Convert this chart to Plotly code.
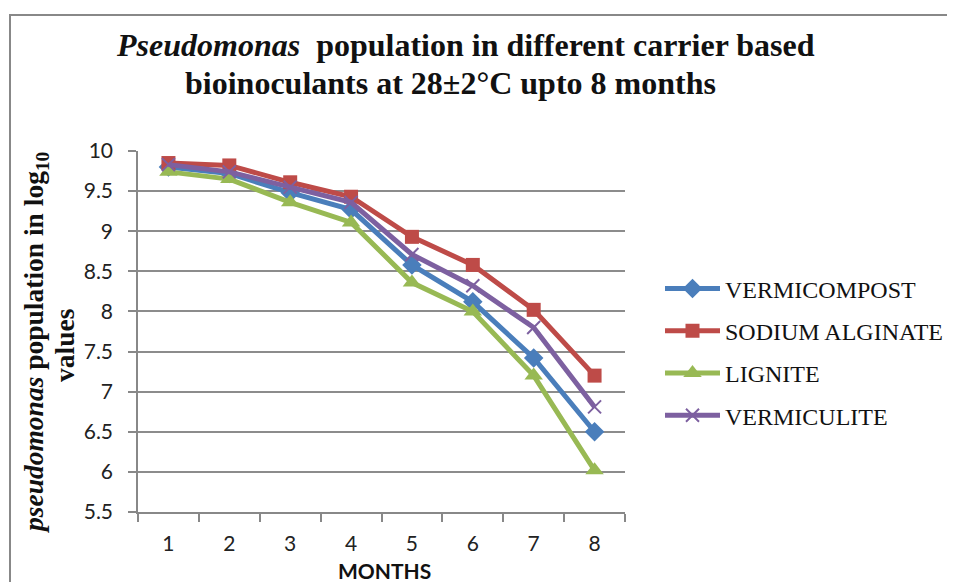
import plotly.graph_objects as go

months = ["1", "2", "3", "4", "5", "6", "7", "8"]
vermicompost = [9.80, 9.72, 9.48, 9.27, 8.58, 8.12, 7.42, 6.50]
sodium_alginate = [9.85, 9.82, 9.61, 9.43, 8.93, 8.58, 8.02, 7.20]
lignite = [9.74, 9.65, 9.36, 9.11, 8.36, 8.00, 7.20, 6.02]
vermiculite = [9.83, 9.74, 9.55, 9.36, 8.71, 8.32, 7.80, 6.81]
y_ticks = [5.5, 6, 6.5, 7, 7.5, 8, 8.5, 9, 9.5, 10]

series = [
    ("VERMICOMPOST", vermicompost, "#4A7EBB", "diamond", 15),
    ("SODIUM ALGINATE", sodium_alginate, "#BE4B48", "square", 14),
    ("LIGNITE", lignite, "#98B954", "triangle-up", 16),
    ("VERMICULITE", vermiculite, "#7D60A0", "x-thin", 13),
]

# page has an 8px body margin; figure coordinates = screen - 8
OFF = 8
W, H = 955, 582
L, T = 138 - OFF, 151 - OFF
pw, ph = 625 - 138, 512 - 151
R, B = W - L - pw, H - T - ph


def px(x):  # screen x -> paper
    return (x - OFF - L) / pw


def py(y):  # screen y -> paper
    return 1 - (y - OFF - T) / ph


fig = go.Figure()
for i, (name, vals, col, sym, size) in enumerate(series):
    marker = dict(symbol=sym, size=size, color=col)
    if sym == "x-thin":
        marker["line"] = dict(color=col, width=2)
    fig.add_trace(go.Scatter(
        x=months, y=vals, name=name, mode="lines+markers",
        line=dict(color=col, width=5), marker=marker,
        legendgroup=f"g{i}",
    ))

fig.update_layout(
    width=W, height=H,
    margin=dict(l=L, r=R, t=T, b=B),
    paper_bgcolor="white", plot_bgcolor="white",
    showlegend=True,
    legend=dict(
        x=px(660), y=py(352), xanchor="left", yanchor="middle",
        font=dict(family="Liberation Serif", size=24, color="#111"),
        traceorder="grouped", tracegroupgap=8, itemwidth=55,
        bgcolor="rgba(0,0,0,0)",
    ),
    xaxis=dict(
        type="category", range=[-0.5, 7.5], tickson="boundaries",
        ticks="outside", ticklen=8, tickcolor="#888", tickwidth=1.5,
        showline=True, linecolor="#888", linewidth=1.5, showgrid=False,
        ticklabelstandoff=12,
        tickfont=dict(family="Lato", size=21, color="#222"),
    ),
    yaxis=dict(
        range=[5.5, 10], tickvals=y_ticks, ticktext=[f"{v:g}" for v in y_ticks],
        ticks="outside", ticklen=8, tickcolor="#888", tickwidth=1.5,
        showline=True, linecolor="#888", linewidth=1.5,
        showgrid=True, gridcolor="#8c8c8c", gridwidth=1.5, zeroline=False,
        ticklabelstandoff=11,
        tickfont=dict(family="Lato", size=21, color="#222"),
    ),
    shapes=[dict(
        type="rect", xref="paper", yref="paper",
        x0=px(10), x1=px(990), y0=py(620), y1=py(15),
        line=dict(color="#888", width=2), fillcolor="rgba(0,0,0,0)", layer="below",
    )],
    annotations=[
        dict(text="<b><i>Pseudomonas</i>  population in different carrier based</b>",
             xref="paper", yref="paper", x=px(465), y=py(45), xanchor="center", yanchor="middle",
             showarrow=False, font=dict(family="Liberation Serif", size=32, color="#111")),
        dict(text="<b>bioinoculants at 28±2°C upto 8 months</b>",
             xref="paper", yref="paper", x=px(450), y=py(83), xanchor="center", yanchor="middle",
             showarrow=False, font=dict(family="Liberation Serif", size=32, color="#111")),
        dict(text="<b><i>pseudomonas</i> population in log<sub>10</sub></b>",
             xref="paper", yref="paper", x=px(35), y=py(343), xanchor="center", yanchor="middle",
             textangle=-90, showarrow=False,
             font=dict(family="Liberation Serif", size=27.5, color="#111")),
        dict(text="<b>values</b>",
             xref="paper", yref="paper", x=px(64), y=py(345), xanchor="center", yanchor="middle",
             textangle=-90, showarrow=False,
             font=dict(family="Liberation Serif", size=27.5, color="#111")),
        dict(text="<b>MONTHS</b>",
             xref="paper", yref="paper", x=px(384), y=py(570), xanchor="center", yanchor="middle",
             showarrow=False, font=dict(family="Lato", size=21, color="#111")),
    ],
)

fig.write_html("out.html")
